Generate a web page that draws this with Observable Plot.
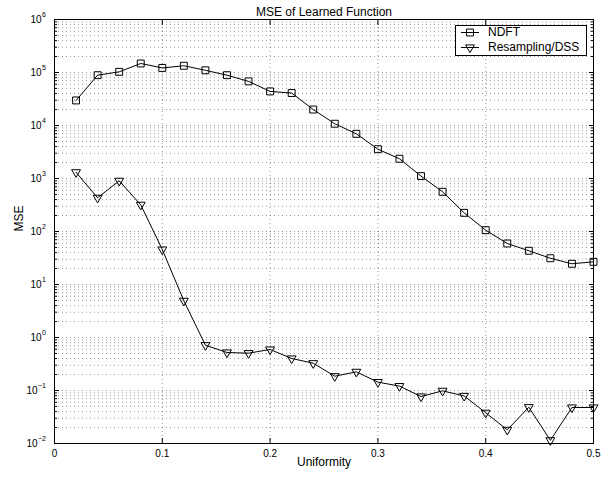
<!DOCTYPE html>
<html>
<head>
<meta charset="utf-8">
<script src="https://cdn.jsdelivr.net/npm/d3@7"></script>
<script src="https://cdn.jsdelivr.net/npm/@observablehq/plot@0.6"></script>
<style>
  html, body { margin: 0; padding: 0; background: #fff; }
  #chart { width: 610px; height: 480px; }
</style>
</head>
<body>
<div id="chart"></div>
<script>
// ---- data ----
const uniformity = [0.02, 0.04, 0.06, 0.08, 0.10, 0.12, 0.14, 0.16, 0.18, 0.20, 0.22, 0.24, 0.26,
                    0.28, 0.30, 0.32, 0.34, 0.36, 0.38, 0.40, 0.42, 0.44, 0.46, 0.48, 0.50];
const ndft = [2.97e4, 8.9e4, 1.03e5, 1.48e5, 1.22e5, 1.34e5, 1.10e5, 8.9e4, 6.8e4, 4.4e4, 4.1e4, 2.0e4, 1.08e4,
              6970, 3570, 2360, 1110, 561, 225, 106, 59.4, 43.3, 31.3, 24.6, 26.8];
const dss = [1310, 432, 905, 319, 45.7, 4.92, 0.716, 0.521, 0.506, 0.594, 0.402, 0.327, 0.186,
             0.225, 0.144, 0.121, 0.077, 0.0986, 0.079, 0.038, 0.0181, 0.0484, 0.0115, 0.0478, 0.0478];
const seriesNames = ["NDFT", "Resampling/DSS"];
const xTicks = [0, 0.1, 0.2, 0.3, 0.4, 0.5];
const xTickLabels = ["0", "0.1", "0.2", "0.3", "0.4", "0.5"];
const yExponents = [-2, -1, 0, 1, 2, 3, 4, 5, 6];
const minorMultipliers = [2, 3, 4, 5, 6, 7, 8, 9];
const titleText = "MSE of Learned Function";
const xLabel = "Uniformity";
const yLabel = "MSE";

// ---- derived tables ----
const rowsN = uniformity.map((u, i) => ({u, v: ndft[i]}));
const rowsD = uniformity.map((u, i) => ({u, v: dss[i]}));
const decades = yExponents.map(e => Math.pow(10, e));
const minors = yExponents.slice(0, -1).flatMap(e => minorMultipliers.map(m => m * Math.pow(10, e)));

const font = "'Liberation Sans', Arial, Helvetica, sans-serif";
const grid = {stroke: "#000", strokeOpacity: 0.4, strokeDasharray: "1,3", strokeWidth: 1};
const sqR = 3.9, triR = 3.3;

const plot = Plot.plot({
  width: 610,
  height: 480,
  marginLeft: 54,
  marginRight: 17,
  marginTop: 19,
  marginBottom: 37,
  style: {fontFamily: font, fontSize: "10px", background: "#fff", color: "#000", overflow: "visible"},
  x: {domain: [0, 0.5]},
  y: {type: "log", domain: [1e-2, 1e6]},
  marks: [
    // grid
    Plot.ruleY(minors.concat(decades.slice(1, -1)), grid),
    Plot.ruleX(xTicks.slice(1, -1), grid),
    // x axis labels and inward ticks
    Plot.axisX({anchor: "bottom", ticks: xTicks, tickFormat: d => xTickLabels[xTicks.indexOf(d)],
                tickSize: 0, tickPadding: 6, label: null, fontSize: 10}),
    Plot.axisX({anchor: "bottom", ticks: xTicks, tickSize: -5, fill: "none", label: null}),
    Plot.axisX({anchor: "top", ticks: xTicks, tickSize: -5, fill: "none", label: null}),
    // y inward ticks on both sides
    Plot.axisY({anchor: "left", ticks: decades, tickSize: -5, fill: "none", label: null}),
    Plot.axisY({anchor: "left", ticks: minors, tickSize: -3, fill: "none", label: null}),
    Plot.axisY({anchor: "right", ticks: decades, tickSize: -5, fill: "none", label: null}),
    Plot.axisY({anchor: "right", ticks: minors, tickSize: -3, fill: "none", label: null}),
    // y tick labels as 10^k
    Plot.text(yExponents.filter(e => e >= 0), {y: e => Math.pow(10, e), frameAnchor: "left", text: () => "10",
      textAnchor: "end", dx: -13, fontSize: 10}),
    Plot.text(yExponents.filter(e => e < 0), {y: e => Math.pow(10, e), frameAnchor: "left", text: () => "10",
      textAnchor: "end", dx: -17, fontSize: 10}),
    Plot.text(yExponents, {y: e => Math.pow(10, e), frameAnchor: "left",
      text: e => e < 0 ? "\u2212" + (-e) : String(e), textAnchor: "end", dx: -8.5, dy: -5, fontSize: 7}),
    // frame
    Plot.frame({stroke: "#000", strokeWidth: 1}),
    // series
    Plot.line(rowsN, {x: "u", y: "v", stroke: "#000", strokeWidth: 1}),
    Plot.dot(rowsN, {x: "u", y: "v", symbol: "square", r: sqR, stroke: "#000", fill: "none", strokeWidth: 1}),
    Plot.line(rowsD, {x: "u", y: "v", stroke: "#000", strokeWidth: 1}),
    Plot.dot(rowsD, {x: "u", y: "v", symbol: "triangle", rotate: 180, r: triR, stroke: "#000", fill: "none", strokeWidth: 1}),
    // titles
    Plot.text([titleText], {frameAnchor: "top", dy: -12, fontSize: 12}),
    Plot.text([xLabel], {frameAnchor: "bottom", dy: 22, fontSize: 12}),
    Plot.text([yLabel], {frameAnchor: "left", rotate: -90, dx: -35, fontSize: 12})
  ]
});

document.getElementById("chart").appendChild(plot);

// ---- legend (layout element) ----
const svg = d3.select(plot);
const lg = svg.append("g").attr("font-family", font).attr("font-size", 12).attr("text-anchor", "start");
lg.append("rect").attr("x", 455.5).attr("y", 25.5).attr("width", 131).attr("height", 30)
  .attr("fill", "#fff").attr("stroke", "#000").attr("stroke-width", 1);
const legendSymbols = [
  {name: seriesNames[0], sym: d3.symbolSquare, r: sqR, rot: 0, y: 32},
  {name: seriesNames[1], sym: d3.symbolTriangle, r: triR, rot: 180, y: 47}
];
legendSymbols.forEach(s => {
  lg.append("line").attr("x1", 461).attr("x2", 479).attr("y1", s.y + 0.5).attr("y2", s.y + 0.5)
    .attr("stroke", "#000").attr("stroke-width", 1);
  lg.append("path").attr("d", d3.symbol(s.sym, s.r * s.r * Math.PI)())
    .attr("transform", `translate(470,${s.y + 0.5}) rotate(${s.rot})`)
    .attr("fill", "none").attr("stroke", "#000").attr("stroke-width", 1);
  lg.append("text").attr("x", 488).attr("y", s.y).attr("dy", "0.35em").attr("text-anchor", "start")
    .attr("fill", "#000").text(s.name);
});
</script>
</body>
</html>
